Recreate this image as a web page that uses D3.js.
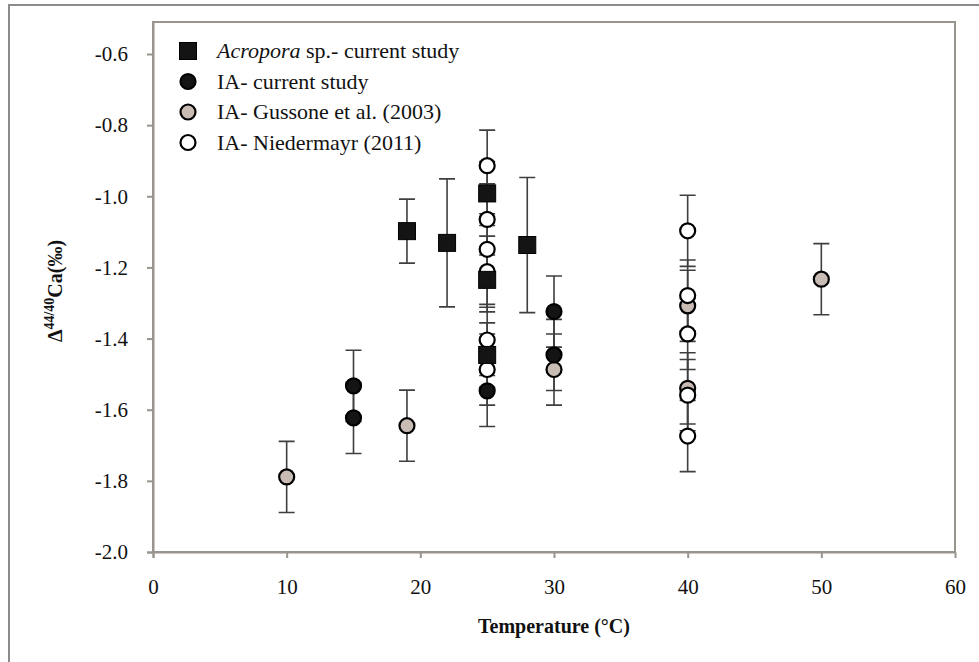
<!DOCTYPE html>
<html><head><meta charset="utf-8">
<script src="https://cdn.jsdelivr.net/npm/d3@7"></script>
<style>body{margin:0;background:#fff;} svg{display:block;}</style>
</head><body>
<svg id="c" width="979" height="662"></svg>
<script>
// ---- data ----
const acroporaX = [19, 22, 25, 25, 25, 28];
const acroporaY = [-1.098, -1.131, -0.992, -1.235, -1.446, -1.137];
const acroporaErr = [0.09, 0.18, 0.09, 0.09, 0.09, 0.19];

const iaCurrentX = [15, 15, 25, 30, 30];
const iaCurrentY = [-1.533, -1.623, -1.547, -1.324, -1.446];
const iaCurrentErr = [0.1, 0.1, 0.1, 0.1, 0.1];

const gussoneX = [10, 19, 30, 40, 40, 50];
const gussoneY = [-1.789, -1.645, -1.487, -1.308, -1.540, -1.233];
const gussoneErr = [0.1, 0.1, 0.1, 0.1, 0.1, 0.1];

const niederX = [25, 25, 25, 25, 25, 25, 40, 40, 40, 40, 40];
const niederY = [-0.914, -1.065, -1.149, -1.212, -1.404, -1.487, -1.097, -1.279, -1.387, -1.559, -1.674];
const niederErr = [0.1, 0.1, 0.1, 0.1, 0.1, 0.1, 0.1, 0.1, 0.1, 0.1, 0.1];

const xTicks = [0, 10, 20, 30, 40, 50, 60];
const yTicks = [-2.0, -1.8, -1.6, -1.4, -1.2, -1.0, -0.8, -0.6];
const legendLabels = ["Acropora sp.- current study", "IA- current study", "IA- Gussone et al. (2003)", "IA- Niedermayr (2011)"];

// ---- layout ----
const svg = d3.select("#c");
const L = 153, R = 955, T = 22, B = 552;
const x = d3.scaleLinear().domain([0, 60]).range([L, R]);
const y = d3.scaleLinear().domain([-2.0, -0.6]).range([B, 54]);
const axisColor = "#9a948e";
const serif = "'Liberation Serif','Tinos','Times New Roman',serif";

// outer frame
svg.append("path").attr("d", `M9,662 L9,5 L979,5`).attr("fill","none")
  .attr("stroke","#8c8c8c").attr("stroke-width",2);

// plot frame
svg.append("rect").attr("x", L).attr("y", T).attr("width", R - L).attr("height", B - T)
  .attr("fill", "#fff").attr("stroke", axisColor).attr("stroke-width", 2);

// axes
const xAxis = d3.axisBottom(x).tickValues(xTicks).tickSize(6).tickFormat(d3.format("d"));
const gx = svg.append("g").attr("transform", `translate(0,${B})`).call(xAxis);
gx.select(".domain").attr("stroke", axisColor).attr("stroke-width", 2)
  .attr("d", `M${L-6},0.5H${R}`);
gx.selectAll(".tick line").attr("stroke", axisColor).attr("stroke-width", 2);
gx.selectAll(".tick text").style("font-family", serif).attr("font-size", 21)
  .attr("fill", "#111").attr("y", 27).attr("dy", "0.71em");

const yAxis = d3.axisLeft(y).tickValues(yTicks).tickSize(6).tickFormat(d3.format(".1f"));
const gy = svg.append("g").attr("transform", `translate(${L},0)`).call(yAxis);
gy.select(".domain").attr("stroke", axisColor).attr("stroke-width", 2)
  .attr("d", `M0.5,${T}V${B+6}`);
gy.selectAll(".tick line").attr("stroke", axisColor).attr("stroke-width", 2);
gy.selectAll(".tick text").style("font-family", serif).attr("font-size", 21)
  .attr("fill", "#111").attr("x", -25)
  .text(d => d3.format(".1f")(d).replace("−", "-"));

// axis titles
svg.append("text").attr("x", (L + R) / 2).attr("y", 633).attr("text-anchor", "middle")
  .style("font-family", serif).attr("font-size", 20).attr("font-weight", "bold")
  .attr("fill", "#111").text("Temperature (°C)");

const yt = svg.append("text").attr("transform", `translate(62,${(T + B) / 2 + 4}) rotate(-90)`)
  .attr("text-anchor", "middle").style("font-family", serif).attr("font-size", 20)
  .attr("font-weight", "bold").attr("fill", "#111");
yt.append("tspan").text("Δ");
yt.append("tspan").attr("dy", -8).attr("font-size", 14).text("44/40");
yt.append("tspan").attr("dy", 8).text("Ca(‰)");

// ---- series ----
const series = [
  {name: legendLabels[0], xs: acroporaX, ys: acroporaY, es: acroporaErr, shape: "square", fill: "#141414"},
  {name: legendLabels[1], xs: iaCurrentX, ys: iaCurrentY, es: iaCurrentErr, shape: "circle", fill: "#141414"},
  {name: legendLabels[2], xs: gussoneX, ys: gussoneY, es: gussoneErr, shape: "circle", fill: "#c8bcb5"},
  {name: legendLabels[3], xs: niederX, ys: niederY, es: niederErr, shape: "circle", fill: "#ffffff"}
];

const drawOrder = [2, 3, 1, 0];
const cap = 8;
drawOrder.forEach(si => {
  const s = series[si];
  const g = svg.append("g").attr("stroke", "#3f3f3f").attr("stroke-width", 1.6).attr("fill", "none");
  s.xs.forEach((v, i) => {
    const cx = x(v), y1 = y(s.ys[i] + s.es[i]), y2 = y(s.ys[i] - s.es[i]);
    g.append("path").attr("d", `M${cx},${y1}V${y2}M${cx-cap},${y1}H${cx+cap}M${cx-cap},${y2}H${cx+cap}`);
  });
});
function marker(g, shape, cx, cy, fill) {
  if (shape === "square") {
    g.append("rect").attr("x", cx - 8.5).attr("y", cy - 8.5).attr("width", 17).attr("height", 17)
      .attr("fill", fill).attr("stroke", "#000").attr("stroke-width", 1);
  } else {
    g.append("circle").attr("cx", cx).attr("cy", cy).attr("r", 7.5)
      .attr("fill", fill).attr("stroke", "#000").attr("stroke-width", 2.2);
  }
}
drawOrder.forEach(si => {
  const s = series[si];
  const g = svg.append("g");
  s.xs.forEach((v, i) => marker(g, s.shape, x(v), y(s.ys[i]), s.fill));
});

// ---- legend ----
const lg = svg.append("g");
series.forEach((s, i) => {
  const cy = 51 + i * 30.5;
  marker(lg, s.shape, 188, cy, s.fill);
  const t = lg.append("text").attr("x", 217).attr("y", cy + 7).style("font-family", serif)
    .attr("font-size", 22).attr("fill", "#111");
  if (i === 0) {
    t.append("tspan").attr("font-style", "italic").text("Acropora");
    t.append("tspan").text(" sp.- current study");
  } else {
    t.text(s.name);
  }
});
</script>
</body></html>
